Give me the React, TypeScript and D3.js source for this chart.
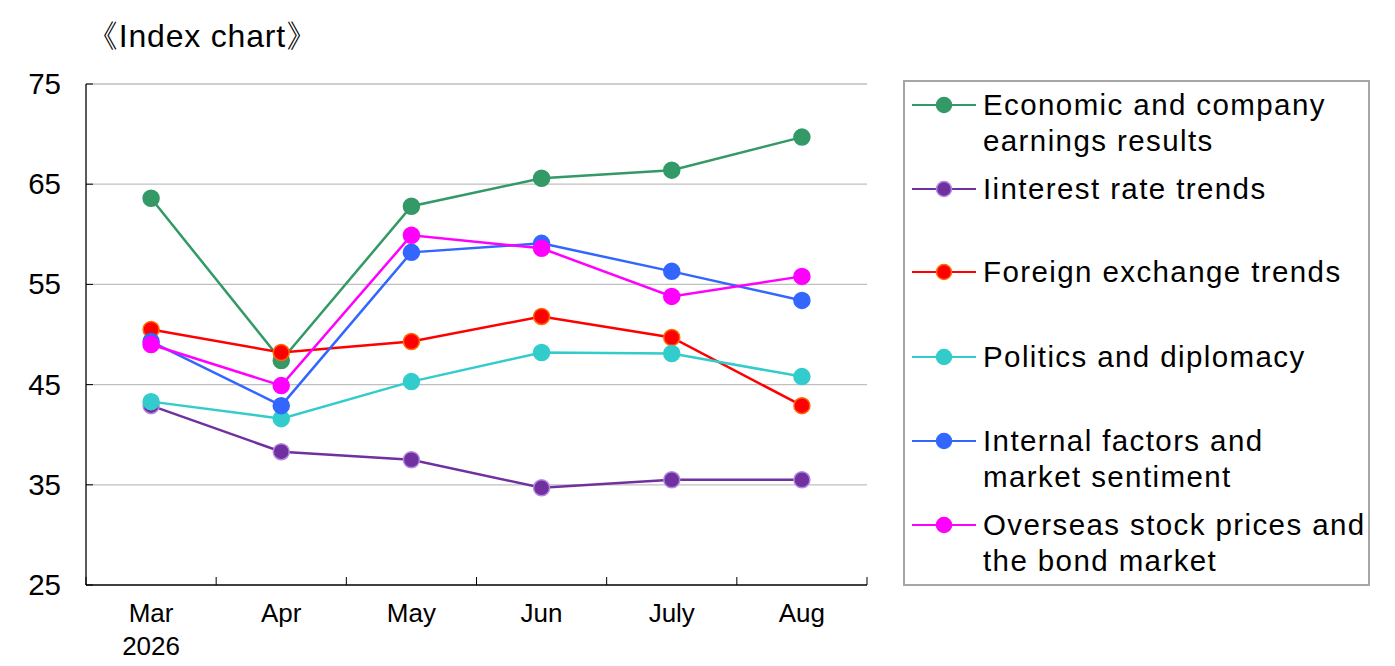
import { useEffect, useRef } from 'react';
import * as d3 from 'd3';

const months = ['Mar', 'Apr', 'May', 'Jun', 'July', 'Aug'];
const yTicks = [25, 35, 45, 55, 65, 75];

const economic = [63.6, 47.4, 62.8, 65.6, 66.4, 69.7];
const interest = [42.9, 38.3, 37.5, 34.7, 35.5, 35.5];
const foreign = [50.5, 48.2, 49.3, 51.8, 49.7, 42.9];
const politics = [43.3, 41.6, 45.3, 48.2, 48.1, 45.8];
const internal = [49.3, 42.9, 58.2, 59.1, 56.3, 53.4];
const overseas = [49.0, 44.9, 59.9, 58.6, 53.8, 55.8];

const seriesNames = [
  ['Economic and company', 'earnings results'],
  ['Iinterest rate trends'],
  ['Foreign exchange trends'],
  ['Politics and diplomacy'],
  ['Internal factors and', 'market sentiment'],
  ['Overseas stock prices and', 'the bond market'],
];
const seriesValues = [economic, interest, foreign, politics, internal, overseas];
const lineColors = ['#339966', '#7030A0', '#FF0000', '#33CCCC', '#3366FF', '#FF00FF'];
const markerStroke = ['#339966', '#B388E0', '#FF6A00', '#33CCCC', '#3366FF', '#FF00FF'];
// legend row centers (first line of each entry)
const legendRows = [105, 189, 272, 357, 441, 525];

export default function App() {
  const svgRef = useRef<SVGSVGElement>(null);

  useEffect(() => {
    if (!svgRef.current) return;
    const W = 1395;
    const H = 666;
    const margin = { top: 84, right: 528, bottom: 81, left: 86 };
    const w = W - margin.left - margin.right;
    const h = H - margin.top - margin.bottom;
    const font = '"Liberation Sans", Arial, sans-serif';

    d3.select(svgRef.current).selectAll('*').remove();
    const root = d3.select(svgRef.current).attr('width', W).attr('height', H);

    // Titel
    root
      .append('text')
      .attr('x', 86)
      .attr('y', 47)
      .attr('font-family', font)
      .attr('font-size', 32)
      .attr('letter-spacing', 0.8)
      .attr('fill', '#000')
      .text('《Index chart》');

    const svg = root.append('g').attr('transform', `translate(${margin.left},${margin.top})`);

    const x = d3.scaleBand().domain(months).range([0, w]).padding(0);
    const y = d3.scaleLinear().domain([25, 75]).range([h, 0]);
    const cx = (m: string) => (x(m) || 0) + x.bandwidth() / 2;

    // Grid
    svg
      .selectAll('.grid')
      .data(yTicks.filter((t) => t > 25))
      .enter()
      .append('line')
      .attr('x1', 0)
      .attr('x2', w)
      .attr('y1', (d) => y(d))
      .attr('y2', (d) => y(d))
      .attr('stroke', '#BFBFBF')
      .attr('stroke-width', 1.3);

    // Y ticks (inside)
    svg
      .selectAll('.ytick')
      .data(yTicks)
      .enter()
      .append('line')
      .attr('x1', 0)
      .attr('x2', 7)
      .attr('y1', (d) => y(d))
      .attr('y2', (d) => y(d))
      .attr('stroke', '#000');

    svg
      .selectAll('.ylab')
      .data(yTicks)
      .enter()
      .append('text')
      .attr('x', -25)
      .attr('y', (d) => y(d) + 10)
      .attr('text-anchor', 'end')
      .attr('font-family', font)
      .attr('font-size', 29.5)
      .text((d) => d);

    // X ticks (inside), at band boundaries
    const bounds = months.map((m) => x(m) || 0).concat([w]);
    svg
      .selectAll('.xtick')
      .data(bounds)
      .enter()
      .append('line')
      .attr('x1', (d) => d)
      .attr('x2', (d) => d)
      .attr('y1', h)
      .attr('y2', h - 8)
      .attr('stroke', '#000');

    svg
      .selectAll('.xlab')
      .data(months)
      .enter()
      .append('text')
      .attr('x', (d) => cx(d))
      .attr('y', h + 37)
      .attr('text-anchor', 'middle')
      .attr('font-family', font)
      .attr('font-size', 26)
      .text((d) => d);

    svg
      .append('text')
      .attr('x', cx(months[0]))
      .attr('y', h + 70)
      .attr('text-anchor', 'middle')
      .attr('font-family', font)
      .attr('font-size', 26)
      .text('2026');

    // Axes
    svg.append('line').attr('x1', 0).attr('x2', 0).attr('y1', 0).attr('y2', h).attr('stroke', '#000').attr('stroke-width', 1.3);
    svg.append('line').attr('x1', 0).attr('x2', w).attr('y1', h).attr('y2', h).attr('stroke', '#000').attr('stroke-width', 1.3);

    const line = d3
      .line<number>()
      .x((_, i) => cx(months[i]))
      .y((d) => y(d));

    seriesValues.forEach((vals, si) => {
      svg
        .append('path')
        .attr('d', line(vals))
        .attr('fill', 'none')
        .attr('stroke', lineColors[si])
        .attr('stroke-width', 2.5);
    });
    seriesValues.forEach((vals, si) => {
      svg
        .selectAll(`.pt${si}`)
        .data(vals)
        .enter()
        .append('circle')
        .attr('cx', (_, i) => cx(months[i]))
        .attr('cy', (d) => y(d))
        .attr('r', 8)
        .attr('fill', lineColors[si])
        .attr('stroke', markerStroke[si])
        .attr('stroke-width', 1.5);
    });

    // Legenda
    const lg = root.append('g');
    lg.append('rect')
      .attr('x', 904)
      .attr('y', 81)
      .attr('width', 465)
      .attr('height', 504)
      .attr('fill', '#fff')
      .attr('stroke', '#A6A6A6')
      .attr('stroke-width', 2);

    seriesNames.forEach((lines, i) => {
      const ry = legendRows[i];
      lg.append('line')
        .attr('x1', 912)
        .attr('x2', 976)
        .attr('y1', ry)
        .attr('y2', ry)
        .attr('stroke', lineColors[i])
        .attr('stroke-width', 2);
      lg.append('circle')
        .attr('cx', 944)
        .attr('cy', ry)
        .attr('r', 7.5)
        .attr('fill', lineColors[i])
        .attr('stroke', markerStroke[i])
        .attr('stroke-width', 1.5);
      lines.forEach((t, j) => {
        lg.append('text')
          .attr('x', 983)
          .attr('y', ry + 10 + j * 36)
          .attr('font-family', font)
          .attr('font-size', 29.5)
          .attr('letter-spacing', 1.4)
          .attr('fill', '#000')
          .text(t);
      });
    });
  }, []);

  return (
    <div style={{ position: 'absolute', left: 0, top: 0, background: '#fff' }}>
      <svg ref={svgRef} style={{ display: 'block' }} />
    </div>
  );
}
